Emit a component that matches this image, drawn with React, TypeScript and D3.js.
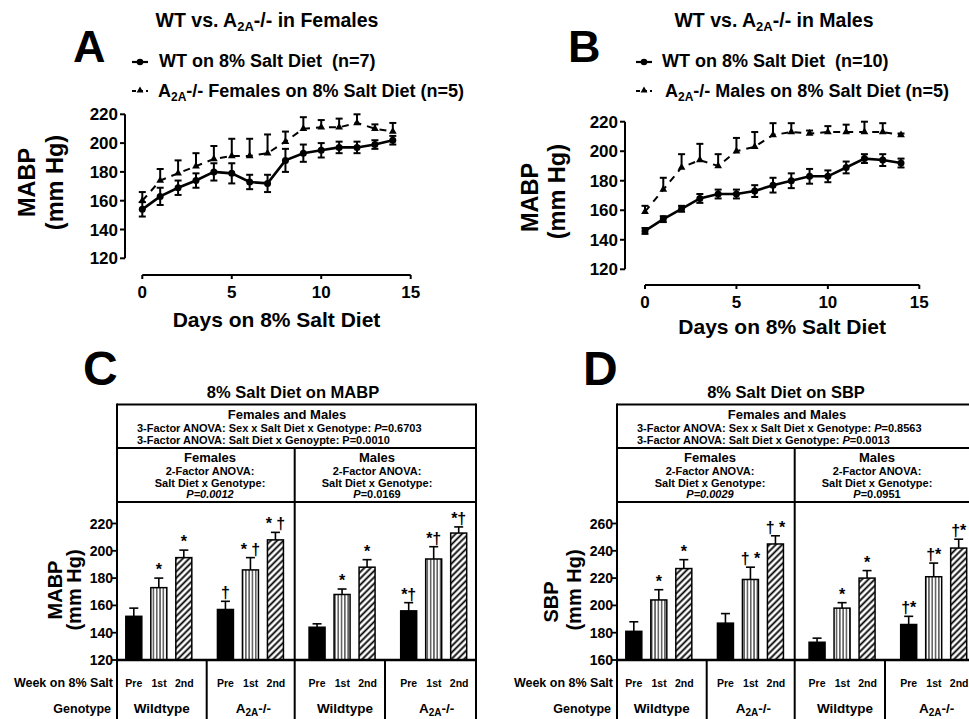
import React from "react";
import * as d3 from "d3";

// ---------- Data ----------
const days = [0, 1, 2, 3, 4, 5, 6, 7, 8, 9, 10, 11, 12, 13, 14];
const xTicks = [0, 5, 10, 15];
const lineYTicks = [120, 140, 160, 180, 200, 220];

const femaleWT = [154, 163, 169, 174, 180, 179, 173, 172, 188, 193, 195, 197, 197, 199, 202];
const femaleWTsem = [5, 6, 5, 5, 6, 7, 5, 6, 8, 6, 5, 4, 4, 3, 3];
const femaleKO = [160, 174, 179, 184, 189, 191, 191, 193, 201, 210, 211, 211, 214, 210, 208];
const femaleKOsem = [6, 8, 9, 9, 9, 12, 12, 13, 7, 8, 5, 6, 6, 3, 6];

const maleWT = [146, 154, 161, 168, 171, 171, 173, 177, 180, 183, 183, 189, 195, 194, 192];
const maleWTsem = [2, 2, 2, 3, 3, 3, 4, 5, 5, 5, 4, 4, 3, 4, 3];
const maleKO = [159, 174, 189, 194, 190, 200, 203, 211, 213, 212, 213, 213, 213, 213, 211];
const maleKOsem = [4, 8, 9, 11, 8, 9, 10, 8, 6, 2, 4, 5, 7, 6, 1];

const groups = ["F-WT", "F-KO", "M-WT", "M-KO"];
const groupIsKO = [false, true, false, true];
const weeks = ["Pre", "1st", "2nd"];

const mabpPre = [152, 157, 144, 156];
const mabpPreSem = [6, 6, 2.5, 6];
const mabp1st = [173, 186, 168, 194];
const mabp1stSem = [7, 9, 4, 9];
const mabp2nd = [195, 208, 188, 213];
const mabp2ndSem = [5.5, 5.5, 5.5, 4.5];
const mabpMarksPre = ["", "†", "", "*†"];
const mabpMarks1st = ["*", "* †", "*", "*†"];
const mabpMarks2nd = ["*", "* †", "*", "*†"];
const mabpTicks = [120, 140, 160, 180, 200, 220];

const sbpPre = [181, 187, 173, 186];
const sbpPreSem = [7, 7, 3, 6];
const sbp1st = [204, 219, 198, 221];
const sbp1stSem = [7.5, 9, 4, 10];
const sbp2nd = [227, 245, 220, 242];
const sbp2ndSem = [6.5, 6, 5.5, 6.5];
const sbpMarksPre = ["", "", "", "†*"];
const sbpMarks1st = ["*", "† *", "*", "†*"];
const sbpMarks2nd = ["*", "† *", "*", "†*"];
const sbpTicks = [160, 180, 200, 220, 240, 260];

// ---------- Helpers ----------
const A2A = ({ size, dy }: { size: number; dy: number }) => (
  <>
    A
    <tspan dy={dy} fontSize={size}>2A</tspan>
    <tspan dy={-dy}>-/-</tspan>
  </>
);

type LineProps = {
  letter: string; letterX: number;
  title: React.ReactNode; titleX: number;
  leg1: string; leg2: React.ReactNode; symX: number; legX1: number; legX2: number;
  xr: [number, number]; yr: [number, number]; yAxisX: number; xAxisY: number;
  mabpX: number; mabpY: number; mmX: number; mmY: number; xlabY: number;
  wt: number[]; wtSem: number[]; ko: number[]; koSem: number[];
};

function LinePanel(p: LineProps) {
  const x = d3.scaleLinear().domain([0, 15]).range(p.xr);
  const y = d3.scaleLinear().domain([120, 220]).range(p.yr);
  const line = d3.line<number>().x((_, i) => x(days[i])).y((d) => y(d));
  const tri = d3.symbol().type(d3.symbolTriangle).size(26)();
  const triSmall = d3.symbol().type(d3.symbolTriangle).size(20)();
  const xMid = (p.xr[0] + p.xr[1]) / 2;
  return (
    <g>
      <text x={p.letterX} y={61.7} fontSize={45}>{p.letter}</text>
      <text x={p.titleX} y={26.5} fontSize={19.5} textAnchor="middle">{p.title}</text>
      {/* legend */}
      <line x1={p.symX - 8} x2={p.symX + 8} y1={62} y2={62} stroke="#000" strokeWidth={2.2} />
      <circle cx={p.symX} cy={62} r={3.3} fill="#000" />
      <line x1={p.symX - 8} x2={p.symX + 8} y1={91} y2={91} stroke="#000" strokeWidth={2} strokeDasharray="4,3" />
      <path d={triSmall} transform={`translate(${p.symX},90.5)`} fill="#000" />
      <text x={p.legX1} y={67} fontSize={18} style={{ whiteSpace: "pre" }}>{p.leg1}</text>
      <text x={p.legX2} y={97} fontSize={18} style={{ whiteSpace: "pre" }}>{p.leg2}</text>
      {/* y axis */}
      <line x1={p.yAxisX} x2={p.yAxisX} y1={y(120)} y2={y(220)} stroke="#000" strokeWidth={2} />
      {lineYTicks.map((t) => (
        <g key={t}>
          <line x1={p.yAxisX - 5} x2={p.yAxisX} y1={y(t)} y2={y(t)} stroke="#000" strokeWidth={2} />
          <text x={p.yAxisX - 7} y={y(t)} dy="0.36em" fontSize={17} textAnchor="end">{t}</text>
        </g>
      ))}
      {/* x axis */}
      <line x1={x(0)} x2={x(15)} y1={p.xAxisY} y2={p.xAxisY} stroke="#000" strokeWidth={2} />
      {xTicks.map((t) => (
        <g key={t}>
          <line x1={x(t)} x2={x(t)} y1={p.xAxisY} y2={p.xAxisY + 4} stroke="#000" strokeWidth={2} />
          <text x={x(t)} y={p.xAxisY + 23} fontSize={17} textAnchor="middle">{t}</text>
        </g>
      ))}
      <text x={xMid} y={p.xlabY} fontSize={21} textAnchor="middle">Days on 8% Salt Diet</text>
      <text transform={`translate(${p.mabpX},${p.mabpY}) rotate(-90)`} fontSize={23.5} textAnchor="middle">MABP</text>
      <text transform={`translate(${p.mmX},${p.mmY}) rotate(-90)`} fontSize={23.5} textAnchor="middle">(mm Hg)</text>
      {/* KO series */}
      <path d={line(p.ko) || ""} fill="none" stroke="#000" strokeWidth={2} strokeDasharray="7,6" />
      {p.ko.map((v, i) => (
        <g key={"k" + i}>
          <line x1={x(days[i])} x2={x(days[i])} y1={y(v)} y2={y(v + p.koSem[i])} stroke="#000" strokeWidth={2} />
          <line x1={x(days[i]) - 3.5} x2={x(days[i]) + 3.5} y1={y(v + p.koSem[i])} y2={y(v + p.koSem[i])} stroke="#000" strokeWidth={2} />
          <path d={tri} transform={`translate(${x(days[i])},${y(v)})`} fill="#000" />
        </g>
      ))}
      {/* WT series */}
      <path d={line(p.wt) || ""} fill="none" stroke="#000" strokeWidth={2.6} />
      {p.wt.map((v, i) => (
        <g key={"w" + i}>
          <line x1={x(days[i])} x2={x(days[i])} y1={y(v - p.wtSem[i])} y2={y(v + p.wtSem[i])} stroke="#000" strokeWidth={2} />
          <line x1={x(days[i]) - 3.5} x2={x(days[i]) + 3.5} y1={y(v + p.wtSem[i])} y2={y(v + p.wtSem[i])} stroke="#000" strokeWidth={2} />
          <line x1={x(days[i]) - 3.5} x2={x(days[i]) + 3.5} y1={y(v - p.wtSem[i])} y2={y(v - p.wtSem[i])} stroke="#000" strokeWidth={2} />
          <circle cx={x(days[i])} cy={y(v)} r={3.5} fill="#000" />
        </g>
      ))}
    </g>
  );
}

type BarProps = {
  ox: number; letter: string; title: string; titleX: number; fmX: number;
  line1: React.ReactNode; line2: React.ReactNode; femP: React.ReactNode; maleP: React.ReactNode;
  yDomain: [number, number]; yTicks: number[];
  ylab: string; ylabX: number; ylabY: number; mmX: number; mmY: number;
  means: number[][]; sems: number[][]; marks: string[][];
};

function BarPanel(p: BarProps) {
  const ox = p.ox;
  const gx = d3.scaleBand<string>().domain(groups).range([113 + ox, 479.5 + ox]);
  const wx = d3.scalePoint<string>().domain(weeks).range([-25, 25]);
  const lx = d3.scalePoint<string>().domain(weeks).range([-25, 25.5]);
  const y = d3.scaleLinear().domain(p.yDomain).range([660, 523.5]);
  const L = 117 + ox, R = 476 + ox, mid = 294.7 + ox;
  const fills = ["#000", "url(#vstripe)", "url(#dstripe)"];
  const sw = 2;
  const gc = (g: string) => (gx(g) as number) + gx.bandwidth() / 2;
  const femC = 210 + ox, maleC = 377 + ox;
  return (
    <g>
      <text x={83 + ox} y={385} fontSize={48}>{p.letter}</text>
      <text x={p.titleX} y={398} fontSize={16.5} textAnchor="middle">{p.title}</text>
      {/* box */}
      <line x1={L} x2={R} y1={404.5} y2={404.5} stroke="#000" strokeWidth={sw} />
      <line x1={L} x2={R} y1={448} y2={448} stroke="#000" strokeWidth={sw} />
      <line x1={L} x2={R} y1={502} y2={502} stroke="#000" strokeWidth={sw} />
      <line x1={L} x2={L} y1={403.5} y2={719} stroke="#000" strokeWidth={sw} />
      <line x1={R} x2={R} y1={403.5} y2={719} stroke="#000" strokeWidth={sw} />
      <line x1={mid} x2={mid} y1={448} y2={719} stroke="#000" strokeWidth={sw} />
      <line x1={206.7 + ox} x2={206.7 + ox} y1={660} y2={719} stroke="#000" strokeWidth={sw} />
      <line x1={385 + ox} x2={385 + ox} y1={660} y2={719} stroke="#000" strokeWidth={sw} />
      {/* header texts */}
      <text x={p.fmX} y={419} fontSize={13} textAnchor="middle">Females and Males</text>
      <text x={137 + ox} y={431.5} fontSize={11}>{p.line1}</text>
      <text x={137 + ox} y={444} fontSize={11}>{p.line2}</text>
      <text x={femC} y={461.5} fontSize={13} textAnchor="middle">Females</text>
      <text x={femC} y={475} fontSize={11} textAnchor="middle">2-Factor ANOVA:</text>
      <text x={femC} y={487.3} fontSize={11} textAnchor="middle">Salt Diet x Genotype:</text>
      <text x={femC} y={498} fontSize={11} textAnchor="middle">{p.femP}</text>
      <text x={maleC} y={461.5} fontSize={13} textAnchor="middle">Males</text>
      <text x={maleC} y={475} fontSize={11} textAnchor="middle">2-Factor ANOVA:</text>
      <text x={maleC} y={487.3} fontSize={11} textAnchor="middle">Salt Diet x Genotype:</text>
      <text x={maleC} y={498} fontSize={11} textAnchor="middle">{p.maleP}</text>
      {/* y axis ticks */}
      {p.yTicks.map((t) => (
        <g key={t}>
          <line x1={L - 5} x2={L} y1={y(t)} y2={y(t)} stroke="#000" strokeWidth={1.8} />
          <text x={L - 4} y={y(t)} dy="0.36em" fontSize={14} textAnchor="end">{t}</text>
        </g>
      ))}
      <text transform={`translate(${p.ylabX},${p.ylabY}) rotate(-90)`} fontSize={20} textAnchor="middle">{p.ylab}</text>
      <text transform={`translate(${p.mmX},${p.mmY}) rotate(-90)`} fontSize={20} textAnchor="middle">(mm Hg)</text>
      {/* bars */}
      {groups.map((g, gi) =>
        weeks.map((w, wi) => {
          const cx = gc(g) + (wx(w) as number);
          const v = p.means[wi][gi];
          const e = v + p.sems[wi][gi];
          return (
            <g key={g + w}>
              <line x1={cx} x2={cx} y1={y(v)} y2={y(e)} stroke="#000" strokeWidth={1.6} />
              <line x1={cx - 4.5} x2={cx + 4.5} y1={y(e)} y2={y(e)} stroke="#000" strokeWidth={1.6} />
              <rect x={cx - 8} y={y(v)} width={16} height={660 - y(v)} fill={fills[wi]} stroke="#000" strokeWidth={1.5} />
              {p.marks[wi][gi] && (
                <text x={cx} y={y(e) - 3} fontSize={16} textAnchor="middle">{p.marks[wi][gi]}</text>
              )}
            </g>
          );
        })
      )}
      <line x1={L - 1} x2={R + 1} y1={660} y2={660} stroke="#000" strokeWidth={2.5} />
      {/* table */}
      <text x={113 + ox} y={686.5} fontSize={12.5} textAnchor="end">Week on 8% Salt</text>
      <text x={111 + ox} y={712.5} fontSize={12.5} textAnchor="end">Genotype</text>
      {groups.map((g, gi) => (
        <g key={"t" + g}>
          {weeks.map((w) => (
            <text key={w} x={gc(g) + (lx(w) as number)} y={686.5} fontSize={10.5} textAnchor="middle">{w}</text>
          ))}
          <text x={gc(g) + 3} y={712.5} fontSize={13.5} textAnchor="middle">
            {groupIsKO[gi] ? <A2A size={10} dy={3} /> : "Wildtype"}
          </text>
        </g>
      ))}
    </g>
  );
}

export default function App() {
  return (
    <svg
      width={969}
      height={719}
      style={{ position: "absolute", left: 0, top: 0, background: "#fff" }}
      fontFamily="'Liberation Sans', Arial, Helvetica, sans-serif"
      fontWeight="bold"
    >
      <defs>
        <pattern id="vstripe" patternUnits="userSpaceOnUse" width={3.3} height={10}>
          <rect width={3.3} height={10} fill="#fff" />
          <line x1={1.65} y1={0} x2={1.65} y2={10} stroke="#000" strokeWidth={1} />
        </pattern>
        <pattern id="dstripe" patternUnits="userSpaceOnUse" width={4.5} height={10} patternTransform="rotate(45)">
          <rect width={4.5} height={10} fill="#fff" />
          <line x1={2.25} y1={0} x2={2.25} y2={10} stroke="#000" strokeWidth={1.8} />
        </pattern>
      </defs>
      <rect width={969} height={719} fill="#fff" />

      <LinePanel
        letter="A" letterX={73}
        title={<>WT vs. <A2A size={13} dy={4} /> in Females</>} titleX={267}
        leg1="WT on 8% Salt Diet  (n=7)"
        leg2={<><A2A size={12} dy={4} /> Females on 8% Salt Diet (n=5)</>}
        symX={140} legX1={159} legX2={158}
        xr={[142.3, 410.7]} yr={[258.3, 114.3]} yAxisX={125} xAxisY={275}
        mabpX={35} mabpY={182.5} mmX={63} mmY={182.5} xlabY={326.5}
        wt={femaleWT} wtSem={femaleWTsem} ko={femaleKO} koSem={femaleKOsem}
      />
      <LinePanel
        letter="B" letterX={568}
        title={<>WT vs. <A2A size={13} dy={4} /> in Males</>} titleX={774}
        leg1="WT on 8% Salt Diet  (n=10)"
        leg2={<><A2A size={12} dy={4} /> Males on 8% Salt Diet (n=5)</>}
        symX={644} legX1={662} legX2={665}
        xr={[645, 919.3]} yr={[269.3, 121.7]} yAxisX={625} xAxisY={285}
        mabpX={538} mabpY={197.5} mmX={565} mmY={191.7} xlabY={334}
        wt={maleWT} wtSem={maleWTsem} ko={maleKO} koSem={maleKOsem}
      />

      <BarPanel
        ox={0} letter="C" title="8% Salt Diet on MABP" titleX={293} fmX={287}
        line1={<>3-Factor ANOVA: Sex x Salt Diet x Genotype: <tspan fontStyle="italic">P</tspan>=0.6703</>}
        line2={<>3-Factor ANOVA: Salt Diet x Genoypte: P=0.0010</>}
        femP={<tspan fontStyle="italic">P=0.0012</tspan>}
        maleP={<><tspan fontStyle="italic">P</tspan>=0.0169</>}
        yDomain={[120, 220]} yTicks={mabpTicks}
        ylab="MABP" ylabX={62} ylabY={590} mmX={81} mmY={590}
        means={[mabpPre, mabp1st, mabp2nd]}
        sems={[mabpPreSem, mabp1stSem, mabp2ndSem]}
        marks={[mabpMarksPre, mabpMarks1st, mabpMarks2nd]}
      />
      <BarPanel
        ox={500} letter="D" title="8% Salt Diet on SBP" titleX={786} fmX={787}
        line1={<>3-Factor ANOVA: Sex x Salt Diet x Genotype: <tspan fontStyle="italic">P</tspan>=0.8563</>}
        line2={<>3-Factor ANOVA: Salt Diet x Genotype: <tspan fontStyle="italic">P</tspan>=0.0013</>}
        femP={<tspan fontStyle="italic">P=0.0029</tspan>}
        maleP={<><tspan fontStyle="italic">P</tspan>=0.0951</>}
        yDomain={[160, 260]} yTicks={sbpTicks}
        ylab="SBP" ylabX={558} ylabY={602} mmX={581} mmY={590}
        means={[sbpPre, sbp1st, sbp2nd]}
        sems={[sbpPreSem, sbp1stSem, sbp2ndSem]}
        marks={[sbpMarksPre, sbpMarks1st, sbpMarks2nd]}
      />
    </svg>
  );
}
